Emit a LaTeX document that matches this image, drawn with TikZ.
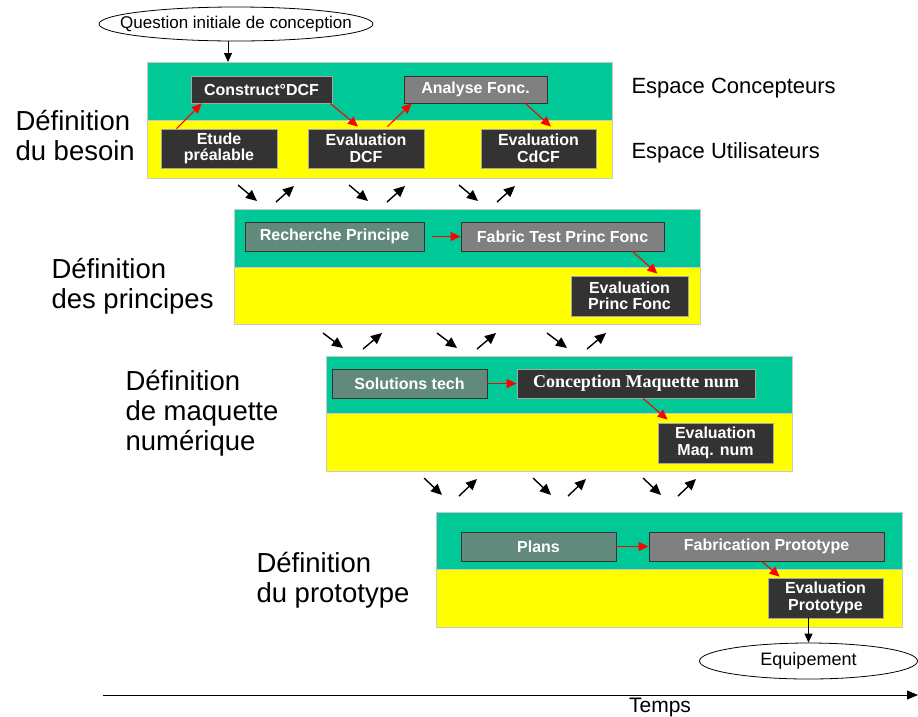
\documentclass[tikz,border=0pt]{standalone}
\usepackage{fontspec}
\setmainfont{Liberation Sans}
\newfontfamily\timesfont{Liberation Serif}
\usetikzlibrary{arrows.meta,shapes.geometric}
\definecolor{concgreen}{RGB}{0,200,150}
\definecolor{useryellow}{RGB}{255,255,0}
\definecolor{darkfill}{RGB}{51,51,51}
\definecolor{greyfill}{RGB}{128,128,128}
\definecolor{tealfill}{RGB}{98,138,124}
\definecolor{panelline}{RGB}{200,200,200}
\tikzset{
	conc/.style={draw=panelline,fill=concgreen,line width=.6pt,inner sep=0pt,anchor=north west},
	user/.style={draw=panelline,fill=useryellow,line width=.6pt,inner sep=0pt,anchor=north west},
	task/.style={inner sep=0pt,align=center,text=white,font=\fontsize{16}{16.5}\selectfont\bfseries},
	dtask/.style={task,fill=darkfill,draw=gray!70,line width=.8pt},
	gtask/.style={task,fill=greyfill,draw=darkfill,line width=.8pt},
	ttask/.style={task,fill=tealfill,draw=darkfill,line width=.8pt},
	phase/.style={align=left,anchor=base west,font=\fontsize{27.5}{30}\selectfont},
	espace/.style={anchor=base west,font=\fontsize{22}{24}\selectfont},
	bulle/.style={draw,ellipse,inner sep=0pt,line width=.8pt},
	redge/.style={draw,red,line width=1.1pt,-{Triangle[length=10pt,width=9pt]}},
	bedge/.style={draw,black,line width=1.4pt,-{Triangle[length=11pt,width=10pt]}},
	thinedge/.style={draw,black,line width=.8pt,-{Triangle[length=9pt,width=8pt]}}
}
\begin{document}
\begin{tikzpicture}[x=1pt,y=-1pt]
\useasboundingbox (0,0) rectangle (918,716);

% phases
\node[conc,minimum width=465pt,minimum height=58pt] (c1) at (147,62) {};
\node[user,minimum width=465pt,minimum height=58pt] (u1) at (147,120) {};
\node[conc,minimum width=466pt,minimum height=58pt] (c2) at (234,209) {};
\node[user,minimum width=466pt,minimum height=57pt] (u2) at (234,267) {};
\node[conc,minimum width=466pt,minimum height=57pt] (c3) at (326,356) {};
\node[user,minimum width=466pt,minimum height=58pt] (u3) at (326,413) {};
\node[conc,minimum width=466pt,minimum height=57pt] (c4) at (436,512) {};
\node[user,minimum width=466pt,minimum height=58pt] (u4) at (436,569) {};

\node[phase] (besoin) at (12,160) {Définition\\du besoin};
\node[phase] (principes) at (48,308) {Définition\\des principes};
\node[phase] (maquette) at (122,450) {Définition\\de maquette\\numérique};
\node[phase] (prototype) at (253,602) {Définition\\du prototype};

\node[espace] (concepteurs) at (628,93) {Espace Concepteurs};
\node[espace] (utilisateurs) at (628,158) {Espace Utilisateurs};

\node[bulle,minimum width=274pt,minimum height=34pt,inner xsep=-35pt,font=\fontsize{17}{19}\selectfont] (question) at (236,24) {Question initiale de conception};
\node[bulle,minimum width=218pt,minimum height=36pt,font=\fontsize{18}{20}\selectfont] (equip) at (808.5,661) {Equipement};

% besoin
\node[dtask,minimum width=141pt,minimum height=27pt] (construct) at (261.5,89.5) {Construct°DCF};
\node[gtask,minimum width=143pt,minimum height=27pt] (analyse) at (475.5,89.5) {Analyse Fonc.};
\node[dtask,minimum width=116pt,minimum height=39pt] (etude) at (219,148.5) {Etude\\préalable};
\node[dtask,minimum width=116pt,minimum height=39pt] (evaldcf) at (366,148.5) {Evaluation\\DCF};
\node[dtask,minimum width=115pt,minimum height=39pt] (evalcdcf) at (538.5,148.5) {Evaluation\\CdCF};

% principes
\node[ttask,minimum width=179pt,minimum height=29pt] (recherche) at (334.5,236.5) {Recherche Principe};
\node[gtask,minimum width=203pt,minimum height=29pt] (fabric) at (562.5,236.5) {Fabric Test Princ Fonc};
\node[dtask,minimum width=117pt,minimum height=40pt] (evalpf) at (629.5,296) {Evaluation\\Princ Fonc};

% maquette
\node[ttask,minimum width=155pt,minimum height=29pt] (solutions) at (409.5,383.5) {Solutions tech};
\node[dtask,minimum width=238pt,minimum height=29pt,font=\fontsize{18}{20}\selectfont\timesfont\bfseries] (conception) at (636,383.5) {Conception Maquette num};
\node[dtask,minimum width=115pt,minimum height=40pt] (evalmaq) at (715.5,443) {Evaluation\\Maq. num};

% prototype
\node[ttask,minimum width=155pt,minimum height=29pt] (plans) at (538.5,546.5) {Plans};
\node[gtask,minimum width=235pt,minimum height=29pt] (fabproto) at (766.5,546.5) {Fabrication Prototype};
\node[dtask,minimum width=115pt,minimum height=40pt] (evalproto) at (825.5,598) {Evaluation\\Prototype};

\draw[redge] ([xshift=16pt]etude.north west) to ([xshift=11pt]construct.south west);
\draw[redge] ([xshift=-2pt]construct.south east) to ([xshift=-8pt,yshift=2pt]evaldcf.north);
\draw[redge] ([xshift=-37pt,yshift=2pt]evaldcf.north east) to ([xshift=8pt]analyse.south west);
\draw[redge] ([xshift=-22pt]analyse.south east) to ([xshift=12.5pt,yshift=2pt]evalcdcf.north);

\draw[redge] ([xshift=8pt]recherche.east) to (fabric.west);
\draw[redge] ([xshift=-32pt]fabric.south east) to ([xshift=-31pt,yshift=2pt]evalpf.north east);

\draw[redge] (solutions.east) to (conception.west);
\draw[redge] ([xshift=7pt]conception.south) to ([xshift=10pt,yshift=3pt]evalmaq.north west);

\draw[redge] (plans.east) to (fabproto.west);
\draw[redge] ([xshift=-4.5pt]fabproto.south) to ([xshift=12pt,yshift=1pt]evalproto.north west);

\coordinate (in1) at (228,62);
\draw[thinedge] (question.south -| in1) to (in1);
\draw[thinedge] (evalproto.south -| equip.north) to (equip.north);

% allers-retours
\foreach \x in {238,349,459}{
  \draw[bedge] (\x,185) -- ++(19,16);
  \draw[bedge] (\x+38,202) -- ++(18,-16);
}
\foreach \x in {323,437,547}{
  \draw[bedge] (\x,333) -- ++(20,15);
  \draw[bedge] (\x+40,349) -- ++(19,-16);
}
\foreach \x in {424,533,643}{
  \draw[bedge] (\x,478) -- ++(18,17);
  \draw[bedge] (\x+35,496) -- ++(18,-17);
}

\coordinate (t0) at (103,695);
\coordinate (t1) at (918,695);
\draw[line width=.8pt,-{Triangle[length=11pt,width=9pt]}] (t0) -- (t1);
\node[anchor=base,font=\fontsize{21}{23}\selectfont] (temps) at (660,712) {Temps};

\end{tikzpicture}
\end{document}
